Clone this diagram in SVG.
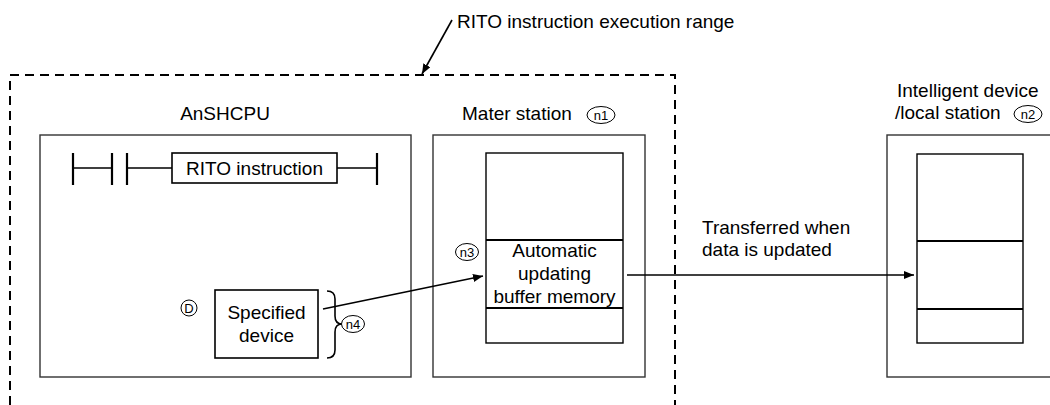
<svg xmlns="http://www.w3.org/2000/svg" width="1050" height="405" viewBox="0 0 1050 405">
<style>
text{font-family:"Liberation Sans",Arial,sans-serif;font-size:19px;fill:#000}
.sm{font-size:13px}
.box{fill:none;stroke:#333;stroke-width:1.4}
.inner{fill:none;stroke:#000;stroke-width:1.4}
.div{stroke:#000;stroke-width:2}
.ln{stroke:#000;stroke-width:1.6;fill:none}
.lad{stroke:#000;stroke-width:2.2;fill:none}
.tag{fill:#fff;stroke:#000;stroke-width:1}
.dash{fill:none;stroke:#000;stroke-width:2;stroke-dasharray:9 6}
</style>
<defs>
<marker id="ah" markerWidth="10" markerHeight="8" refX="10" refY="4" orient="auto" markerUnits="userSpaceOnUse">
<path d="M0,0 L10,4 L0,8 Z" fill="#000"/>
</marker>
</defs>
<g id="range">
<path class="dash" d="M10,405 L10,75 L675,75 L675,405"/>
<text x="457" y="28">RITO instruction execution range</text>
</g>
<g id="anshcpu">
<text x="225" y="120" text-anchor="middle">AnSHCPU</text>
<rect class="box" x="40" y="135" width="371" height="242"/>
<path class="lad" d="M73,153 V185 M112,153 V185 M127,153 V185 M377,153 V185"/>
<path class="ln" d="M73,168 H112 M127,168 H172 M337,168 H377"/>
<rect class="ln" x="172" y="153" width="165" height="30"/>
<text x="254.5" y="175" text-anchor="middle">RITO instruction</text>
</g>
<g id="device">
<circle class="tag" cx="189" cy="308" r="8"/>
<text class="sm" x="189" y="312.5" text-anchor="middle">D</text>
<rect class="ln" x="215" y="290" width="103" height="68"/>
<text x="266.5" y="319" text-anchor="middle">Specified</text>
<text x="266.5" y="342" text-anchor="middle">device</text>
<path class="ln" d="M327,291 Q335,291 335,299 L335,316 Q335,324 342,324 Q335,324 335,332 L335,350 Q335,358 327,358"/>
<ellipse class="tag" cx="353" cy="324" rx="11.5" ry="8.5"/>
<text class="sm" x="353" y="328.5" text-anchor="middle">n4</text>
</g>
<g id="master">
<text x="462" y="120">Mater station</text>
<ellipse class="tag" cx="601" cy="115" rx="14" ry="8.5"/>
<text class="sm" x="601" y="119.5" text-anchor="middle">n1</text>
<rect class="box" x="433" y="135" width="212" height="242"/>
<rect class="inner" x="486" y="153" width="137" height="190"/>
<path class="div" d="M486,240 H623 M486,308 H623"/>
<text x="554.5" y="257" text-anchor="middle">Automatic</text>
<text x="554.5" y="280" text-anchor="middle">updating</text>
<text x="554.5" y="303" text-anchor="middle">buffer memory</text>
<ellipse class="tag" cx="467" cy="252" rx="11.5" ry="8.5"/>
<text class="sm" x="467" y="256.5" text-anchor="middle">n3</text>
</g>
<g id="intelligent">
<text x="897" y="97">Intelligent device</text>
<text x="895" y="119">/local station</text>
<ellipse class="tag" cx="1028" cy="114" rx="14" ry="8.5"/>
<text class="sm" x="1028" y="118.5" text-anchor="middle">n2</text>
<rect class="box" x="887" y="135" width="180" height="242"/>
<rect class="inner" x="917" y="154" width="106" height="189"/>
<path class="div" d="M917,241 H1023 M917,309 H1023"/>
</g>
<g id="connectors">
<line class="ln" x1="452" y1="20" x2="422" y2="74" marker-end="url(#ah)"/>
<line class="ln" x1="323" y1="309" x2="483" y2="276" marker-end="url(#ah)"/>
<line class="ln" x1="627" y1="275" x2="914" y2="275" marker-end="url(#ah)"/>
<text x="702" y="234">Transferred when</text>
<text x="702" y="256">data is updated</text>
</g>
</svg>
